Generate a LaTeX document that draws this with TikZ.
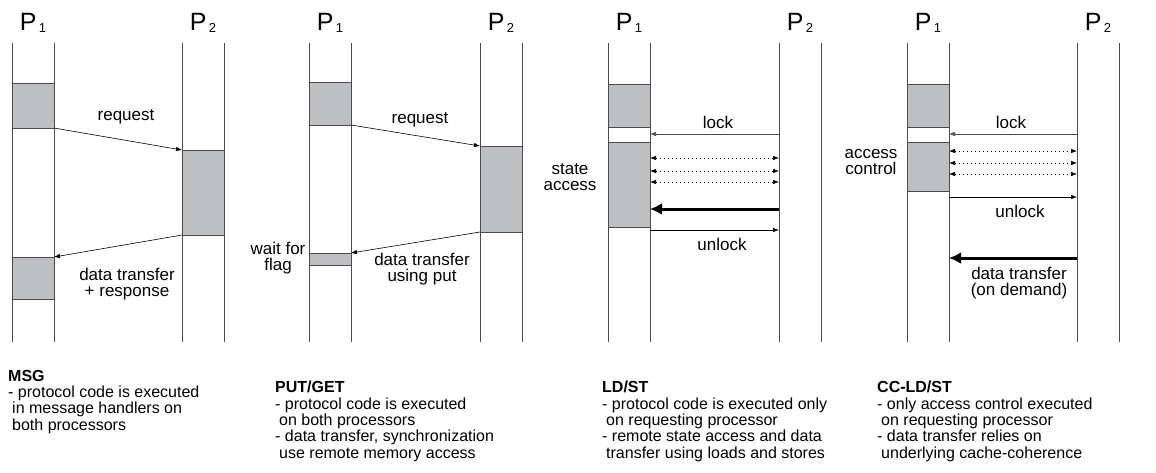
\documentclass[tikz,border=0pt]{standalone}
\usepackage{fontspec}
\setmainfont{Liberation Sans}
\usetikzlibrary{arrows.meta}
\definecolor{boxgray}{RGB}{190,191,195}
\definecolor{linegray}{RGB}{75,75,75}
\begin{document}
\begin{tikzpicture}[x=1pt,y=-1pt,
  life/.style={draw=linegray, line width=0.8pt},
  busy/.style={draw=linegray, fill=boxgray, line width=0.8pt, minimum width=42pt, inner sep=0pt, outer sep=0pt},
  msg/.style={line width=0.6pt, -{Latex[length=6pt,width=4.5pt]}},
  poll/.style={line width=0.6pt, dash pattern=on 1pt off 3pt, {Latex[length=6pt,width=4.5pt]}-{Latex[length=6pt,width=4.5pt]}},
  bulk/.style={line width=3pt, -{Latex[length=12pt,width=12pt]}},
  lbl/.style={font=\fontsize{17}{15.5}\selectfont, align=center, inner sep=0pt},
  proc/.style={font=\fontsize{25}{25}\selectfont, anchor=base, inner sep=0pt},
  note/.style={font=\fontsize{16}{16.3}\selectfont, align=left, anchor=north west, inner sep=0pt}]
\useasboundingbox (0,0) rectangle (1156,472);

% lifelines
\foreach \x in {12,54,182,224,309,351,480,522,608,650,779,821,907,949,1077,1119}
  \draw[life] (\x,43) -- (\x,342);

% processor labels
\node[proc] (a1) at (33,30) {P\raisebox{-2pt}{\fontsize{13}{13}\selectfont\,1}};
\node[proc] (a2) at (203,30) {P\raisebox{-2pt}{\fontsize{13}{13}\selectfont\,2}};
\node[proc] (b1) at (330,30) {P\raisebox{-2pt}{\fontsize{13}{13}\selectfont\,1}};
\node[proc] (b2) at (501,30) {P\raisebox{-2pt}{\fontsize{13}{13}\selectfont\,2}};
\node[proc] (c1) at (629,30) {P\raisebox{-2pt}{\fontsize{13}{13}\selectfont\,1}};
\node[proc] (c2) at (800,30) {P\raisebox{-2pt}{\fontsize{13}{13}\selectfont\,2}};
\node[proc] (d1) at (928,30) {P\raisebox{-2pt}{\fontsize{13}{13}\selectfont\,1}};
\node[proc] (d2) at (1098,30) {P\raisebox{-2pt}{\fontsize{13}{13}\selectfont\,2}};

% ---- MSG panel
\node[busy, minimum height=45pt] (m1) at (33,105.5) {};
\node[busy, minimum height=85pt] (m2) at (203,192.5) {};
\node[busy, minimum height=42pt] (m3) at (33,278) {};
\draw[msg] (m1.south east) -- (m2.north west);
\draw[msg] (m2.south west) -- (m3.north east);
\node[lbl] (mreq) at (126,117) {request};
\node[lbl] (mdat) at (127,284) {data transfer\\+ response};

% ---- PUT/GET panel
\node[busy, minimum height=43pt] (p1) at (330,103.5) {};
\node[busy, minimum height=86pt] (p2) at (501,189) {};
\node[busy, minimum height=12pt] (p3) at (330,259) {};
\draw[msg] (p1.south east) -- (p2.north west);
\draw[msg] (p2.south west) -- (p3.north east);
\node[lbl] (preq) at (420,120) {request};
\node[lbl] (pdat) at (422,269) {data transfer\\using put};
\node[lbl] (pwait) at (278,258) {wait for\\flag};

% ---- LD/ST panel
\node[busy, minimum height=43pt] (l1) at (629,105.5) {};
\node[busy, minimum height=85pt] (l2) at (629,184.5) {};
\coordinate (lk3) at (779,134);
\coordinate (bk3) at (779,209);
\coordinate (ul3) at (779,230);
\draw[msg, draw=linegray] (lk3) -- (l1.east |- lk3);
\foreach \y in {158,171,182}
  \draw[poll] (l2.east |- 0,\y) -- (779,\y);
\draw[bulk] (bk3) -- (l2.east |- bk3);
\draw[msg] (l2.east |- ul3) -- (ul3);
\node[lbl] (llock) at (718,122) {lock};
\node[lbl] (lunl) at (722,244) {unlock};
\node[lbl] (lsta) at (570,177) {state\\access};

% ---- CC-LD/ST panel
\node[busy, minimum height=43pt] (k1) at (928,105.5) {};
\node[busy, minimum height=49pt] (k2) at (928,166.5) {};
\coordinate (lk4) at (1077,134);
\coordinate (ul4) at (1077,197);
\coordinate (bk4) at (1077,258);
\draw[msg, draw=linegray] (lk4) -- (k1.east |- lk4);
\foreach \y in {151,163,174}
  \draw[poll] (k2.east |- 0,\y) -- (1077,\y);
\draw[msg] (k2.east |- ul4) -- (ul4);
\draw[bulk] (bk4) -- (k2.east |- bk4);
\node[lbl] (klock) at (1011,122) {lock};
\node[lbl] (kunl) at (1020,211) {unlock};
\node[lbl] (kacc) at (871,162) {access\\control};
\node[lbl] (kdat) at (1019,283) {data transfer\\(on demand)};

% ---- notes
\node[note] (n1) at (8,370) {\textbf{MSG}\\- protocol code is executed\\\hspace*{4pt}in message handlers on\\\hspace*{4pt}both processors};
\node[note] (n2) at (275,381) {\textbf{PUT/GET}\\- protocol code is executed\\\hspace*{4pt}on both processors\\- data transfer, synchronization\\\hspace*{4pt}use remote memory access};
\node[note] (n3) at (602,381) {\textbf{LD/ST}\\- protocol code is executed only\\\hspace*{4pt}on requesting processor\\- remote state access and data\\\hspace*{4pt}transfer using loads and stores};
\node[note] (n4) at (877,381) {\textbf{CC-LD/ST}\\- only access control executed\\\hspace*{4pt}on requesting processor\\- data transfer relies on\\\hspace*{4pt}underlying cache-coherence};
\end{tikzpicture}
\end{document}
